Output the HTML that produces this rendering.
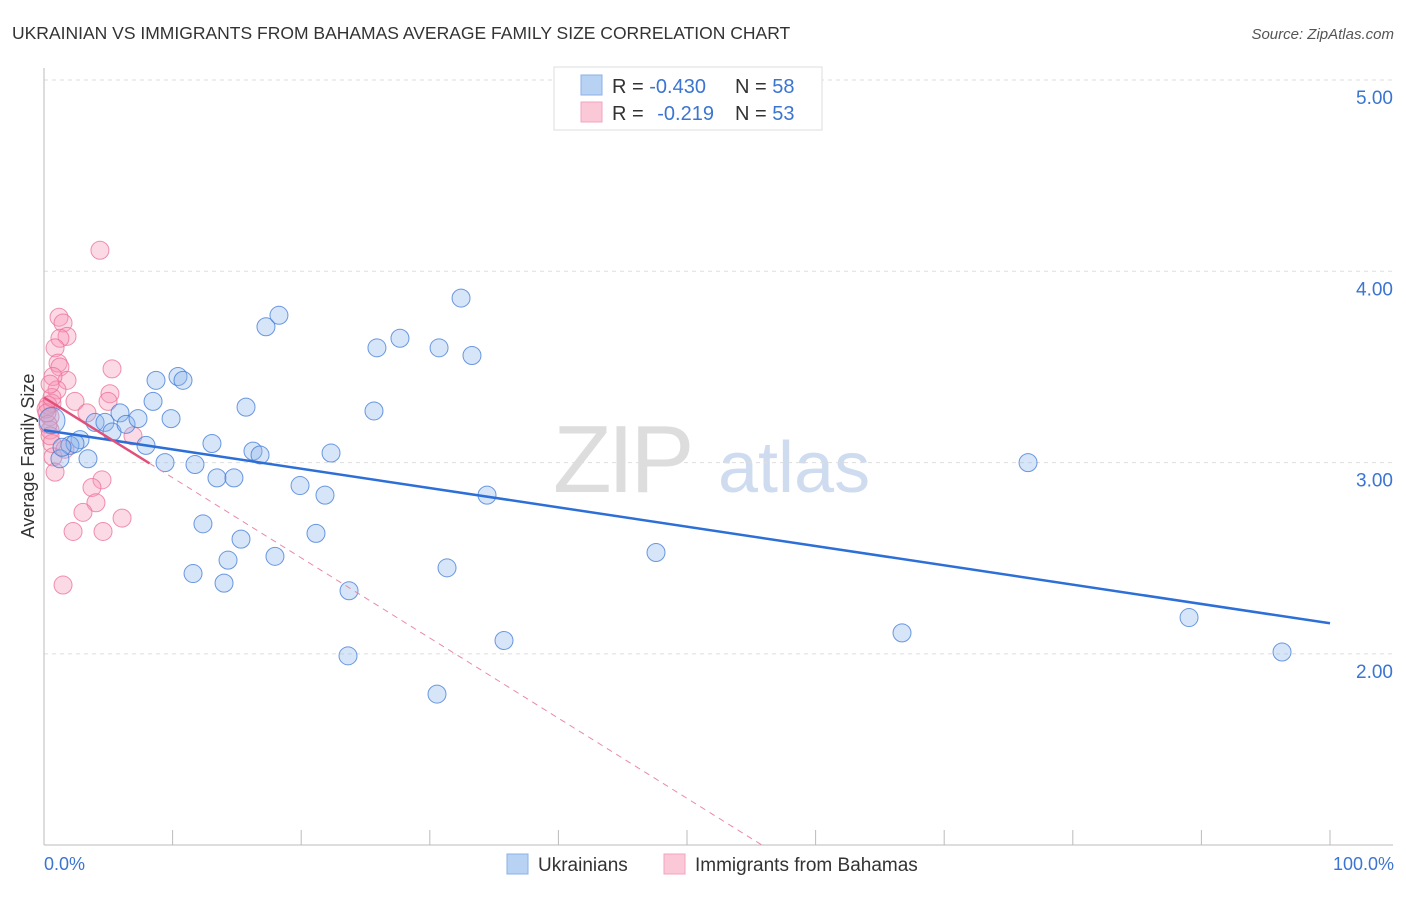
<!DOCTYPE html>
<html><head><meta charset="utf-8"><style>
body{margin:0;background:#fff;font-family:"Liberation Sans",sans-serif}
svg text{font-family:"Liberation Sans",sans-serif}
</style></head><body>
<svg id="chart" width="1406" height="892" xmlns="http://www.w3.org/2000/svg">
<text x="12" y="39" font-size="17.5" fill="#333">UKRAINIAN VS IMMIGRANTS FROM BAHAMAS AVERAGE FAMILY SIZE CORRELATION CHART</text>
<text x="1394" y="39" font-size="15" fill="#555" text-anchor="end" font-style="italic">Source: ZipAtlas.com</text>
<g>
<text x="553" y="492" font-size="96" fill="#ddd" font-family="Liberation Serif" letter-spacing="-4">ZIP</text>
<text x="718" y="492" font-size="72" fill="#cfdcf0">atlas</text>
</g>
<g id="grid"></g>
<g id="axes"></g>
<g id="pts"></g>
<g id="lines"></g>
<text transform="translate(34,456) rotate(-90)" font-size="18" fill="#333" text-anchor="middle">Average Family Size</text>
<text x="44" y="870" font-size="18" fill="#3b75d1">0.0%</text>
<text x="1394" y="870" font-size="18" fill="#3b75d1" text-anchor="end">100.0%</text>
<g>
<rect x="554" y="67" width="268" height="63" fill="#fff" stroke="#ddd"/>
<rect x="581" y="75" width="21" height="20" fill="#b8d2f4" stroke="#8ab2e8"/>
<rect x="581" y="102" width="21" height="20" fill="#fbc8d8" stroke="#f3a5bf"/>
<text x="612" y="93" font-size="20" fill="#333">R = <tspan fill="#3b75d1">-0.430</tspan></text>
<text x="735" y="93" font-size="20" fill="#333">N = <tspan fill="#3b75d1">58</tspan></text>
<text x="612" y="120" font-size="20" fill="#333">R = <tspan fill="#3b75d1" dx="8">-0.219</tspan></text>
<text x="735" y="120" font-size="20" fill="#333">N = <tspan fill="#3b75d1">53</tspan></text>
</g>
<g>
<rect x="507" y="854" width="21" height="20" fill="#b8d2f4" stroke="#8ab2e8"/>
<text x="538" y="871" font-size="19" fill="#333">Ukrainians</text>
<rect x="664" y="854" width="21" height="20" fill="#fbc8d8" stroke="#f3a5bf"/>
<text x="695" y="871" font-size="19" fill="#333">Immigrants from Bahamas</text>
</g>
</svg>
<script>
const yTicks=[2,3,4,5];
const yTickLabels=["2.00","3.00","4.00","5.00"];
const blueX=[3.97,4.74,5.29,2.80,2.02,3.42,5.91,6.38,7.31,7.93,8.48,8.71,9.88,10.42,10.81,9.41,11.74,13.06,12.36,11.59,13.45,14.77,14.31,14.00,15.32,15.71,16.25,16.80,17.26,18.27,17.96,19.91,21.15,21.85,22.32,23.72,23.64,25.66,25.89,27.68,30.72,31.34,30.56,32.43,33.28,34.45,35.77,47.59,66.72,76.52,89.04,96.27,1.24,2.41,0.62,1.4];
const blueY=[3.21,3.21,3.16,3.12,3.09,3.02,3.26,3.20,3.23,3.09,3.32,3.43,3.23,3.45,3.43,3.00,2.99,3.10,2.68,2.42,2.92,2.92,2.49,2.37,2.60,3.29,3.06,3.04,3.71,3.77,2.51,2.88,2.63,2.83,3.05,2.33,1.99,3.27,3.60,3.65,3.60,2.45,1.79,3.86,3.56,2.83,2.07,2.53,2.11,3.00,2.19,2.01,3.02,3.10,3.22,3.08];
const pinkX=[4.35,1.17,1.48,1.79,1.24,0.86,1.09,1.24,1.79,0.70,1.01,5.29,5.13,4.98,2.41,3.34,0.62,0.47,0.47,0.62,0.70,1.63,6.92,0.86,4.51,3.73,4.04,3.03,6.07,2.26,4.59,1.48,0.31,0.16,0.31,0.47,0.23,0.62,0.47];
const pinkY=[4.11,3.76,3.73,3.66,3.65,3.60,3.52,3.50,3.43,3.45,3.38,3.49,3.36,3.32,3.32,3.26,3.31,3.24,3.17,3.10,3.03,3.07,3.14,2.95,2.91,2.87,2.79,2.74,2.71,2.64,2.64,2.36,3.30,3.28,3.20,3.14,3.26,3.34,3.41];
const blueLine=[3.17,-0.0101];
const pinkLine=[3.34,-0.0419];
const NS="http://www.w3.org/2000/svg";
const X=p=>44+p*12.86, Y=v=>80+(5-v)*191.3;
function mk(tag,attrs,parent){const e=document.createElementNS(NS,tag);for(const k in attrs)e.setAttribute(k,attrs[k]);parent.appendChild(e);return e;}
const grid=document.getElementById('grid'),axes=document.getElementById('axes'),pts=document.getElementById('pts'),lines=document.getElementById('lines');
yTicks.forEach((t,i)=>{
 const l=mk('line',{x1:44,x2:1393,y1:Y(t),y2:Y(t),stroke:'#ddd','stroke-dasharray':'4,4'},grid);
 
 
 const tx=mk('text',{x:1393,y:Y(t)+24,'font-size':19,fill:'#3b75d1','text-anchor':'end'},axes);
 tx.textContent=yTickLabels[i];
 
 
});
const ax=mk('line',{x1:44,x2:44,y1:68,y2:845,stroke:'#bbb'},axes);


const bx=mk('line',{x1:44,x2:1393,y1:845,y2:845,stroke:'#bbb'},axes);


for(let i=1;i<=10;i++){
 const t=mk('line',{x1:X(i*10),x2:X(i*10),y1:830,y2:845,stroke:'#bbb'},axes);
 
 
}
pinkX.forEach((x,i)=>{
 const c=mk('circle',{cx:X(x),cy:Y(pinkY[i]),r:9,fill:'rgba(245,150,180,0.35)',stroke:'rgba(235,110,150,0.75)','stroke-width':1},pts);
 
 
});
blueX.forEach((x,i)=>{
 const c=mk('circle',{cx:X(x),cy:Y(blueY[i]),r:(i==54?13:9),fill:'rgba(140,180,235,0.35)',stroke:'rgba(60,120,215,0.75)','stroke-width':1},pts);
 
 
});
const bl=mk('line',{x1:X(0),y1:Y(blueLine[0]),x2:X(100),y2:Y(blueLine[0]+blueLine[1]*100),stroke:'#2d6fd6','stroke-width':2.5},lines);


const pEnd=(1-pinkLine[0])/pinkLine[1];
const pd=mk('line',{x1:X(8.2),y1:Y(pinkLine[0]+pinkLine[1]*8.2),x2:X(pEnd),y2:Y(1),stroke:'#e98aa8','stroke-width':1,'stroke-dasharray':'6,5'},lines);


const ps=mk('line',{x1:X(0),y1:Y(pinkLine[0]),x2:X(8.2),y2:Y(pinkLine[0]+pinkLine[1]*8.2),stroke:'#e0507a','stroke-width':2.5},lines);


</script>
</body></html>
